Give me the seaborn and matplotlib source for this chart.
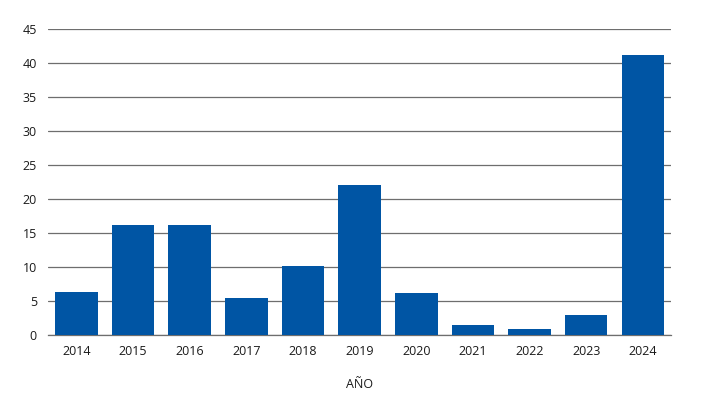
import numpy as np
import pandas as pd
import matplotlib
matplotlib.use("Agg")
import matplotlib.pyplot as plt
import seaborn as sns

years = ["2014", "2015", "2016", "2017", "2018", "2019", "2020", "2021", "2022", "2023", "2024"]
values = [6.3, 16.1, 16.1, 5.4, 10.1, 22.1, 6.1, 1.4, 0.9, 3.0, 41.1]

df = pd.DataFrame({"year": years, "value": values})

sns.set_style("white")
plt.rcParams["font.family"] = ["Open Sans", "DejaVu Sans"]

fig = plt.figure(figsize=(7.01, 4.04), dpi=100)
ax = fig.add_axes([0.0685, 0.171, 0.889, 0.758])

sns.barplot(data=df, x="year", y="value", color="#0055a4", saturation=1, width=0.75,
            linewidth=0, ax=ax, zorder=3)

ax.set_ylim(0, 45)
ax.set_xlim(-0.5, 10.5)
ax.set_yticks(np.arange(0, 50, 5))
ax.yaxis.grid(True, color="#6e6e6e", linewidth=0.9, zorder=0)
ax.xaxis.grid(False)
for s in ["top", "right", "left"]:
    ax.spines[s].set_visible(False)
ax.spines["bottom"].set_color("#6e6e6e")
ax.spines["bottom"].set_linewidth(0.9)
ax.tick_params(axis="both", length=0, labelsize=9, colors="#1a1a1a")
ax.tick_params(axis="x", pad=7)
ax.tick_params(axis="y", pad=8)
ax.set_ylabel("")
ax.set_xlabel("AÑO", fontsize=9, color="#1a1a1a", labelpad=15)

fig.savefig("out.png", dpi=100)
